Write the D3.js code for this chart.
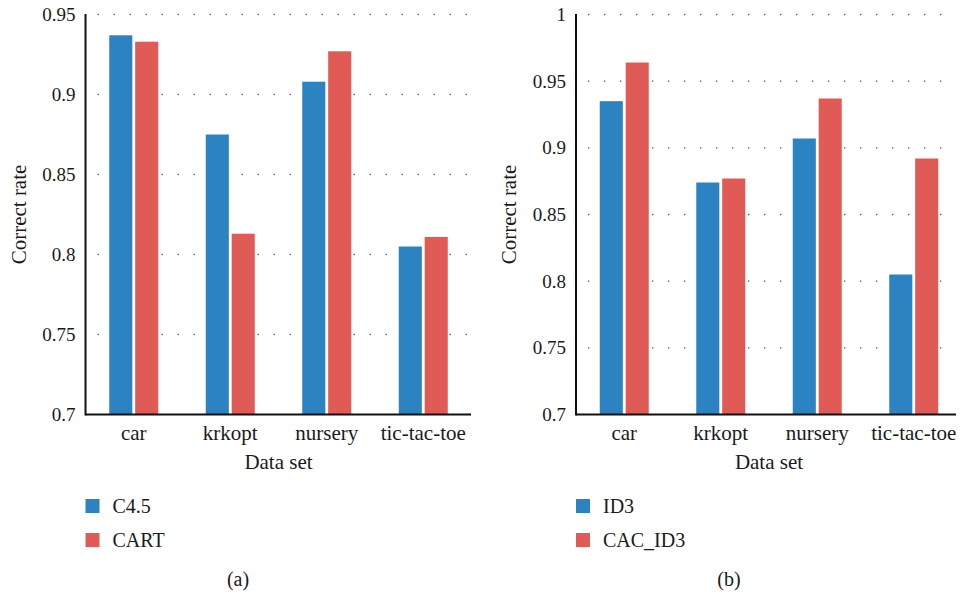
<!DOCTYPE html>
<html>
<head>
<meta charset="utf-8">
<script src="https://cdn.jsdelivr.net/npm/d3@7"></script>
<style>
  body { margin: 0; background: #fff; }
</style>
</head>
<body>
<div id="chart"></div>
<script>
const datasets = ["car", "krkopt", "nursery", "tic-tac-toe"];

const seriesA = ["C4.5", "CART"];
const c45Values = [0.937, 0.875, 0.908, 0.805];
const cartValues = [0.933, 0.813, 0.927, 0.811];
const ticksA = [0.7, 0.75, 0.8, 0.85, 0.9, 0.95];

const seriesB = ["ID3", "CAC_ID3"];
const id3Values = [0.935, 0.874, 0.907, 0.805];
const cacId3Values = [0.964, 0.877, 0.937, 0.892];
const ticksB = [0.7, 0.75, 0.8, 0.85, 0.9, 0.95, 1];

const colors = ["#2c83c2", "#e05a56"];
const serif = "'Liberation Serif', 'Times New Roman', 'DejaVu Serif', serif";

const width = 960, height = 597;

const svg = d3.select("#chart")
    .append("svg")
    .attr("width", width)
    .attr("height", height);

function label(sel, size) {
    sel.style("font-family", serif)
        .style("font-size", size + "px")
        .style("fill", "#1a1a1a");
}

function drawPanel(opts) {
    const g = svg.append("g");
    const x = d3.scaleBand().domain(datasets).range([opts.left, opts.left + 386]);
    const y = d3.scaleLinear().domain([0.7, opts.yMax]).range([414.5, 14.5]);

    const sub = d3.scaleBand().domain(opts.series).range([-24.5, 24.5]).paddingInner(0.11);

    // dotted gridlines
    g.append("g")
        .selectAll("line")
        .data(opts.ticks.slice(1))
        .enter()
        .append("line")
        .attr("x1", opts.left + 12)
        .attr("x2", opts.gridEnd)
        .attr("y1", d => y(d))
        .attr("y2", d => y(d))
        .attr("stroke", "#555")
        .attr("stroke-width", 1.3)
        .attr("stroke-dasharray", "1.3,14.7");

    // bars
    const rows = datasets.map((d, i) => ({ name: d, values: opts.values.map(v => v[i]) }));
    g.append("g")
        .selectAll("g")
        .data(rows)
        .enter()
        .append("g")
        .attr("transform", d => `translate(${x(d.name) + x.bandwidth() / 2},0)`)
        .selectAll("rect")
        .data(d => d.values.map((v, j) => ({ key: opts.series[j], value: v, j: j })))
        .enter()
        .append("rect")
        .attr("x", d => sub(d.key))
        .attr("width", sub.bandwidth())
        .attr("y", d => y(d.value))
        .attr("height", d => y(0.7) - y(d.value))
        .attr("fill", d => colors[d.j]);

    // axes
    const yAxis = g.append("g")
        .attr("transform", `translate(${opts.left},0)`)
        .call(d3.axisLeft(y).tickValues(opts.ticks).tickSize(0).tickPadding(10)
            .tickFormat(d => d3.format("")(+d.toFixed(2))));
    yAxis.select(".domain").attr("stroke", "#111").attr("stroke-width", 2)
        .attr("d", `M0,${y(opts.yMax) - 0.5}V${y(0.7) + 1}`);
    yAxis.selectAll("text").call(label, 19);

    const xAxis = g.append("g")
        .attr("transform", `translate(0,${y(0.7)})`)
        .call(d3.axisBottom(x).tickSize(0).tickPadding(9));
    xAxis.select(".domain").attr("stroke", "#111").attr("stroke-width", 2)
        .attr("d", `M${opts.left},0H${opts.axisEnd}`);
    xAxis.selectAll("text").call(label, 21).attr("dy", "0.78em");

    // axis titles
    g.append("text")
        .attr("x", (opts.left + opts.left + 386) / 2)
        .attr("y", 469)
        .attr("text-anchor", "middle")
        .call(label, 21)
        .text("Data set");

    g.append("text")
        .attr("transform", `translate(${opts.left - 60},${y((0.7 + opts.yMax) / 2)}) rotate(-90)`)
        .attr("text-anchor", "middle")
        .call(label, 21)
        .text("Correct rate");

    // legend
    const legend = g.append("g")
        .selectAll("g")
        .data(opts.series)
        .enter()
        .append("g")
        .attr("transform", (d, i) => `translate(${opts.left},${499 + i * 34})`);
    legend.append("rect").attr("width", 14).attr("height", 14).attr("fill", (d, i) => colors[i]);
    legend.append("text").attr("x", 27).attr("y", 14).call(label, 20).text(d => d);

    g.append("text")
        .attr("x", opts.captionX)
        .attr("y", 586)
        .attr("text-anchor", "middle")
        .call(label, 20)
        .text(opts.caption);
}

drawPanel({
    left: 85.5, yMax: 0.95, ticks: ticksA, series: seriesA,
    values: [c45Values, cartValues], gridEnd: 472, axisEnd: 471,
    caption: "(a)", captionX: 238
});

drawPanel({
    left: 576, yMax: 1, ticks: ticksB, series: seriesB,
    values: [id3Values, cacId3Values], gridEnd: 950, axisEnd: 956,
    caption: "(b)", captionX: 729
});
</script>
</body>
</html>
